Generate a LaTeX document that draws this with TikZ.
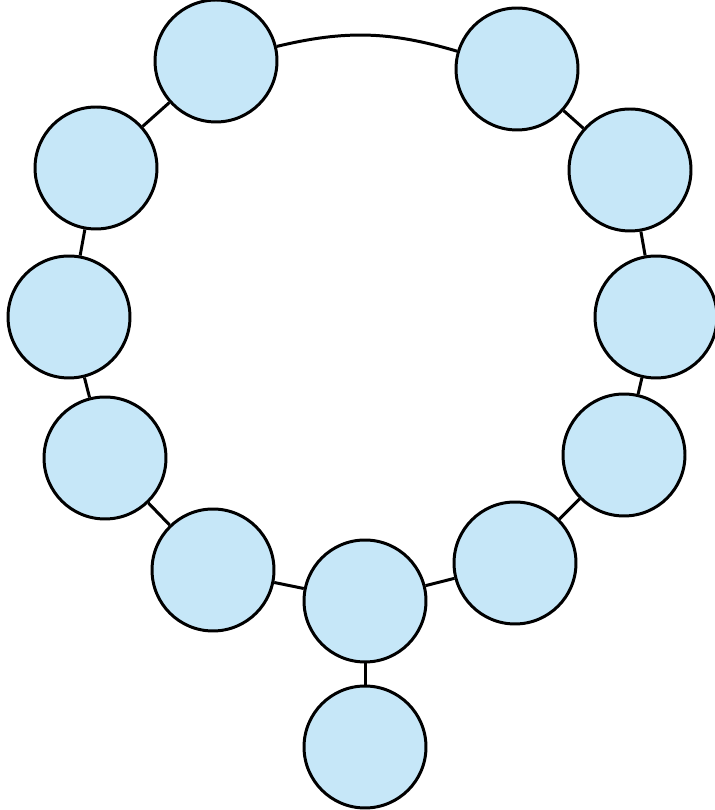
\documentclass[tikz,border=0pt]{standalone}
\usepackage{xcolor}
\usepackage{tikz}
\usetikzlibrary{positioning}

\definecolor{beadblue}{RGB}{198,231,248}

\begin{document}
\begin{tikzpicture}[x=0.02cm, y=0.02cm,
    bead/.style={circle, draw, line width=1.7pt, fill=beadblue, minimum size=2.44cm, inner sep=0pt},
    thread/.style={line width=1.7pt}]
          \useasboundingbox (0,0) rectangle (715,810);

          \node[bead] (T1) at (216,749) {};
          \node[bead] (T2) at (517,741) {};
          \node[bead] (L1) at (96,642) {};
          \node[bead] (R1) at (630,640) {};
          \node[bead] (L2) at (69,493) {};
          \node[bead] (R2) at (656,493) {};
          \node[bead] (L3) at (105,352) {};
          \node[bead] (R3) at (624,355) {};
          \node[bead] (B1) at (213,240) {};
          \node[bead] (B3) at (515,247) {};
          \node[bead] (B2) at (365,209) {};
          \node[bead] (P) at (365,63) {};

          \draw[thread] (T1) to[bend left=15] (T2);
          \draw[thread] (T1) -- (L1);
          \draw[thread] (L1) -- (L2);
          \draw[thread] (L2) -- (L3);
          \draw[thread] (L3) -- (B1);
          \draw[thread] (B1) -- (B2);
          \draw[thread] (B2) -- (B3);
          \draw[thread] (B3) -- (R3);
          \draw[thread] (R3) -- (R2);
          \draw[thread] (R2) -- (R1);
          \draw[thread] (R1) -- (T2);
          \draw[thread] (B2) -- (P);
        \end{tikzpicture}
\end{document}
